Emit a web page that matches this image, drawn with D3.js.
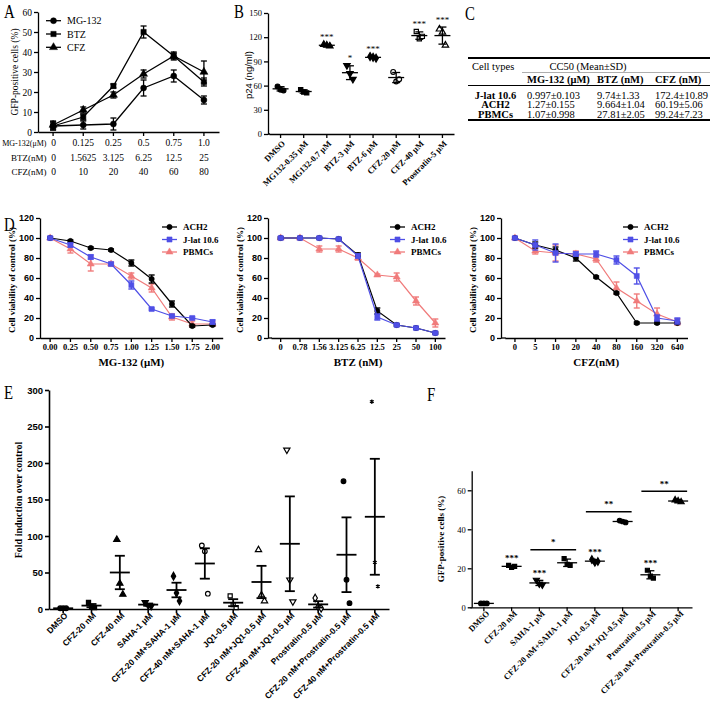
<!DOCTYPE html>
<html><head><meta charset="utf-8">
<script src="https://cdn.jsdelivr.net/npm/d3@7/dist/d3.min.js"></script>
<style>html,body{margin:0;padding:0;background:#fff;}svg{display:block;background:#fff}</style>
</head><body>
<svg id="chart" width="713" height="711"></svg>
<script>
// ================= DATA =================
// Panel A
const aMGLabels = ["0","0.125","0.25","0.5","0.75","1.0"];
const aBTZLabels = ["0","1.5625","3.125","6.25","12.5","25"];
const aCFZLabels = ["0","10","20","40","60","80"];
const aRowNames = ["MG-132(μM)","BTZ(nM)","CFZ(nM)"];
const aSeriesNames = ["MG-132","BTZ","CFZ"];
const aMG132 = [3, 3.5, 4, 22, 28, 16];
const aMG132Err = [2, 2, 3, 4, 3, 2];
const aBTZ = [3, 7.5, 23, 50, 38, 25];
const aBTZErr = [2, 1.5, 1, 3, 1.5, 2];
const aCFZ = [3.5, 11, 18.5, 29, 38, 30];
const aCFZErr = [2, 1.5, 1.5, 2, 2, 5.5];
const aYTicks = [0,10,20,30,40,50,60];

// Panel B
const bCats = ["DMSO","MG132-0.35 μM","MG132-0.7 μM","BTZ-3 μM","BTZ-6 μM","CFZ-20 μM","CFZ-40 μM","Prostratin-5 μM"];
const bVals = [[59,55,54],[55,52,51],[111,110,109],[85,75,68],[96,95,94],[77,65,68],[127,118,121],[130,126,110]];
const bStars = ["","","***","*","***","","***","***"];
const bYTicks = [0,30,60,90,120,150];

// Panel C
const cRows = ["J-lat 10.6","ACH2","PBMCs"];
const cCols = ["MG-132 (μM)","BTZ (nM)","CFZ (nM)"];
const cMG132 = ["0.997±0.103","1.27±0.155","1.07±0.998"];
const cBTZ = ["9.74±1.33","9.664±1.04","27.81±2.05"];
const cCFZ = ["172.4±10.89","60.19±5.06","99.24±7.23"];

// Panel D
const dNames = ["ACH2","J-lat 10.6","PBMCs"];
const dYTicks = [0,20,40,60,80,100,120];
const d1Cats = ["0.00","0.25","0.50","0.75","1.00","1.25","1.50","1.75","2.00"];
const d1ACH2 = [100,97,90,88,75,59,34,12,13];
const d1ACH2Err = [1,1,1,1,3,4,3,1,1];
const d1Jlat = [100,93,81,74,53,29,22,20,16];
const d1JlatErr = [1,2,2,1,4,1,1,1,2];
const d1PBMC = [100,89,74,74,62,50,21,14,14];
const d1PBMCErr = [1,4,7,2,3,4,3,3,2];
const d2Cats = ["0","0.78","1.56","3.125","6.25","12.5","25","50","100"];
const d2ACH2 = [100,100,100,99,83,27,13,10,5];
const d2ACH2Err = [1,1,1,1,2,3,1,1,1];
const d2Jlat = [100,100,100,99,82,21,13,10,5];
const d2JlatErr = [1,1,1,1,2,3,1,1,1];
const d2PBMC = [100,100,89,89,80,63,61,37,15];
const d2PBMCErr = [1,1,3,3,2,1,4,4,4];
const d3Cats = ["0","5","10","20","40","80","160","320","640"];
const d3ACH2 = [100,93,88,80,61,45,15,15,15];
const d3ACH2Err = [1,3,3,3,1,1,1,1,1];
const d3Jlat = [100,93,85,84,84,78,62,20,17];
const d3JlatErr = [1,5,9,2,3,4,8,3,3];
const d3PBMC = [100,87,85,84,79,50,37,24,16];
const d3PBMCErr = [1,3,8,3,3,6,7,6,3];

// Panel E
const eCats = ["DMSO","CFZ-20 nM","CFZ-40 nM","SAHA-1 μM","CFZ-20 nM+SAHA-1 μM","CFZ-40 nM+SAHA-1 μM","JQ1-0.5 μM","CFZ-20 nM+JQ1-0.5 μM","CFZ-40 nM+JQ1-0.5 μM","Prostratin-0.5 μM","CFZ-20 nM+Prostratin-0.5 μM","CFZ-40 nM+Prostratin-0.5 μM"];
const eVals = [[1,1,1],[9,3,2],[95,35,20],[9,5,4],[45,22,11],[87,79,21],[18,6,2],[81,19,11],[218,40,10],[15,3,1],[175,40,8],[284,64,31]];
const eYTicks = [0,50,100,150,200,250,300];

// Panel F
const fCats = ["DMSO","CFZ-20 nM","SAHA-1 μM","CFZ-20 nM+SAHA-1 μM","JQ1-0.5 μM","CFZ-20 nM+JQ1-0.5 μM","Prostratin-0.5 μM","CFZ-20 nM+Prostratin-0.5 μM"];
const fVals = [[2,2,2],[21.5,20.5,21],[14,12,11.5],[25,22,21.5],[24.5,23,23.5],[44.5,44,43.5],[19,16,15],[55,54.5,54]];
const fStars = ["","***","***","","***","","***",""];
const fBrackets = [[2,3,"*"],[4,5,"**"],[6,7,"**"]];
const fYTicks = [0,20,40,60];

// ================= DRAWING =================
const SERIF = "'Liberation Serif','Times New Roman',serif";
const SANS = "'Liberation Sans',Arial,sans-serif";
const svg = d3.select("#chart");

function txt(g, x, y, s, o = {}) {
  return g.append("text").attr("x", x).attr("y", y).text(s)
    .attr("font-family", o.font || SERIF).attr("font-size", o.size || 10)
    .attr("font-weight", o.weight || "normal").attr("text-anchor", o.anchor || "start")
    .attr("fill", o.fill || "#000");
}
function rtxt(g, x, y, s, o = {}) {
  return g.append("text").attr("transform", `translate(${x},${y}) rotate(-90)`).text(s)
    .attr("font-family", o.font || SERIF).attr("font-size", o.size || 10)
    .attr("font-weight", o.weight || "normal").attr("text-anchor", "middle");
}
function panelLetter(x, y, s) {
  svg.append("text").attr("transform", `translate(${x},${y}) scale(0.78,1)`).text(s)
    .attr("font-family", SERIF).attr("font-size", 19);
}
function styleAxis(g, o) {
  g.attr("font-family", o.font || SERIF).attr("font-size", o.size || 9).attr("font-weight", o.weight || "normal");
  g.selectAll("path,line").attr("stroke", "#000").attr("stroke-width", o.sw || 1.3);
  g.selectAll("text").attr("fill", "#000");
  return g;
}
function yAxis(x, scale, ticks, o = {}) {
  const g = svg.append("g").attr("transform", `translate(${x},0)`)
    .call(d3.axisLeft(scale).tickValues(ticks).tickSize(o.ts || 4).tickSizeOuter(0).tickPadding(o.tp || 2).tickFormat(d3.format("d")));
  return styleAxis(g, o);
}
function xAxisBand(y, band, o = {}) {
  const g = svg.append("g").attr("transform", `translate(0,${y})`)
    .call(d3.axisBottom(band).tickSize(o.ts || 4).tickSizeOuter(0).tickPadding(o.tp || 2).tickFormat(o.labels ? null : ""));
  return styleAxis(g, o);
}
const SYM = {circle: d3.symbolCircle, square: d3.symbolSquare, triangle: d3.symbolTriangle,
  tridown: d3.symbolTriangle, diamond: d3.symbolDiamond, asterisk: d3.symbolAsterisk};
function mark(g, type, x, y, size, fill, stroke, sw) {
  g.append("path").attr("d", d3.symbol().type(SYM[type]).size(size)())
    .attr("transform", `translate(${x},${y})${type === "tridown" ? " rotate(180)" : ""}`)
    .attr("fill", type === "asterisk" ? "none" : fill).attr("stroke", stroke).attr("stroke-width", sw || 1.1);
}
function errBar(g, x, y0, y1, cap, color, sw) {
  g.append("line").attr("x1", x).attr("x2", x).attr("y1", y0).attr("y2", y1).attr("stroke", color).attr("stroke-width", sw);
  [y0, y1].forEach(yy => g.append("line").attr("x1", x - cap).attr("x2", x + cap).attr("y1", yy).attr("y2", yy).attr("stroke", color).attr("stroke-width", sw));
}
function rotLabels(band, y, dx, o) {
  band.domain().forEach(c => {
    svg.append("text").attr("transform", `translate(${band(c) + band.bandwidth() / 2 + dx},${y}) rotate(-45)`)
      .attr("text-anchor", "end").attr("dy", "0.35em").text(c)
      .attr("font-family", o.font).attr("font-size", o.size).attr("font-weight", o.weight || "normal");
  });
}
function dotPlot(band, y, vals, shapes, fills, o) {
  const g = svg.append("g");
  vals.forEach((v, i) => {
    const cx = band(band.domain()[i]) + band.bandwidth() / 2;
    const m = d3.mean(v), sd = d3.deviation(v), e = o.sem ? sd / Math.sqrt(v.length) : sd;
    v.forEach((val, j) => mark(g, shapes[i], cx + (j - 1) * o.jit, y(val), shapes[i] === "asterisk" ? o.size * 0.8 : o.size, fills[i] ? "#000" : "#fff", "#000", 1.2));
    g.append("line").attr("x1", cx - o.mw).attr("x2", cx + o.mw).attr("y1", y(m)).attr("y2", y(m)).attr("stroke", "#000").attr("stroke-width", o.sw);
    errBar(g, cx, y(m - e), y(m + e), o.cw, "#000", o.sw);
  });
}

// ---------- Panel A ----------
panelLetter(4, 18, "A");
const aX = d3.scaleBand().domain(aMGLabels).range([38, 219]);
const aY = d3.scaleLinear().domain([0, 60]).range([132, 12]);
yAxis(38, aY, aYTicks, {font: SERIF, size: 9.5});
xAxisBand(132, aX, {});
const aCx = i => aX(aMGLabels[i]) + aX.bandwidth() / 2;
const aSeries = [
  {v: aMG132, e: aMG132Err, s: "circle"},
  {v: aBTZ, e: aBTZErr, s: "square"},
  {v: aCFZ, e: aCFZErr, s: "triangle"}];
const gA = svg.append("g");
aSeries.forEach(sr => {
  gA.append("path").datum(sr.v).attr("fill", "none").attr("stroke", "#000").attr("stroke-width", 1.3)
    .attr("d", d3.line().x((d, i) => aCx(i)).y(d => aY(d)));
  sr.v.forEach((d, i) => { errBar(gA, aCx(i), aY(d - sr.e[i]), aY(d + sr.e[i]), 3, "#000", 1.3); });
  sr.v.forEach((d, i) => mark(gA, sr.s, aCx(i), aY(d), 28, "#000", "#000", 0.5));
});
[aMGLabels, aBTZLabels, aCFZLabels].forEach((row, r) => {
  const yy = 146 + r * 14.5;
  txt(svg, 46.5, yy, aRowNames[r], {size: r === 0 ? 8 : 9, anchor: "end"});
  row.forEach((s, i) => txt(svg, aCx(i) + (i === 0 ? 0.5 : 0), yy, s, {size: 9.5, anchor: "middle"}));
});
aSeries.forEach((sr, i) => {
  const yy = 20.7 + i * 13.3;
  svg.append("line").attr("x1", 46).attr("x2", 61).attr("y1", yy).attr("y2", yy).attr("stroke", "#000").attr("stroke-width", 1.3);
  mark(svg, sr.s, 53.5, yy, 28, "#000", "#000", 0.5);
  txt(svg, 67, yy + 3.5, aSeriesNames[i], {size: 10});
});
rtxt(svg, 18, 72, "GFP-positive cells (%)", {size: 9.5});

// ---------- Panel B ----------
panelLetter(234, 18, "B");
const bX = d3.scaleBand().domain(bCats).range([269, 454]);
const bY = d3.scaleLinear().domain([0, 150]).range([134, 13]);
yAxis(268, bY, bYTicks, {font: SERIF, size: 8.5});
xAxisBand(134, bX, {});
svg.append("line").attr("x1", 268).attr("x2", 270).attr("y1", 134).attr("y2", 134).attr("stroke", "#000").attr("stroke-width", 1.3);
dotPlot(bX, bY, bVals, ["circle","square","triangle","tridown","diamond","circle","square","triangle"], [1,1,1,1,1,0,0,0],
  {size: 18, jit: 3, mw: 8, cw: 4, sw: 1.3, sem: false});
bVals.forEach((v, i) => {
  if (!bStars[i]) return;
  const top = Math.max(d3.max(v), d3.mean(v) + d3.deviation(v));
  txt(svg, bX(bCats[i]) + bX.bandwidth() / 2, bY(top) - 4.5, bStars[i], {size: 9, anchor: "middle"});
});
rotLabels(bX, 142, 3, {font: SERIF, size: 8.5, weight: "bold"});
rtxt(svg, 252, 75, "p24 (ng/ml)", {font: SANS, size: 9.5});

// ---------- Panel C ----------
panelLetter(465, 20, "C");
const gC = svg.append("g");
const hl = (y, x0, x1, w, c) => gC.append("line").attr("x1", x0).attr("x2", x1).attr("y1", y).attr("y2", y).attr("stroke", c || "#000").attr("stroke-width", w);
hl(58, 468, 710, 1.8);
hl(72.5, 522, 710, 0.8, "#999");
hl(85.5, 468, 710, 1.1);
hl(120, 468, 710, 1.8);
txt(gC, 472, 70, "Cell types", {size: 10.5});
txt(gC, 588, 70, "CC50 (Mean±SD)", {size: 10.5, anchor: "middle"});
const cColX = [527, 597, 655];
cCols.forEach((c, i) => txt(gC, cColX[i], 83, c, {size: 10.5, weight: "bold"}));
[cMG132, cBTZ, cCFZ].forEach((col, ci) => col.forEach((s, ri) => txt(gC, cColX[ci], 98.5 + ri * 9.6, s, {size: 10.5})));
cRows.forEach((r, ri) => txt(gC, 495.5, 98.5 + ri * 9.6, r, {size: 10.5, weight: "bold", anchor: "middle"}));

// ---------- Panel D ----------
panelLetter(4, 231, "D");
const dY = d3.scaleLinear().domain([0, 120]).range([338, 218]);
const dColors = ["#000000", "#4f4fe6", "#f07b7b"];
const dShapes = ["circle", "square", "triangle"];
const dSizes = [22, 26, 22];
const dPanels = [
  {cats: d1Cats, title: "MG-132 (μM)", s: [d1ACH2, d1Jlat, d1PBMC], e: [d1ACH2Err, d1JlatErr, d1PBMCErr], ax: 40, r: [40, 222.7]},
  {cats: d2Cats, title: "BTZ (nM)", s: [d2ACH2, d2Jlat, d2PBMC], e: [d2ACH2Err, d2JlatErr, d2PBMCErr], ax: 268, r: [271, 445]},
  {cats: d3Cats, title: "CFZ(nM)", s: [d3ACH2, d3Jlat, d3PBMC], e: [d3ACH2Err, d3JlatErr, d3PBMCErr], ax: 501, r: [504.8, 687.5]}];
dPanels.forEach(p => {
  const x = d3.scaleBand().domain(p.cats).range(p.r);
  const cx = i => x(p.cats[i]) + x.bandwidth() / 2;
  yAxis(p.ax, dY, dYTicks, {font: SANS, size: 9, weight: "bold"});
  xAxisBand(338, x, {labels: true, font: SERIF, size: 8.5, weight: "bold", tp: 2});
  svg.append("line").attr("x1", p.ax).attr("x2", p.r[0] + 1).attr("y1", 338).attr("y2", 338).attr("stroke", "#000").attr("stroke-width", 1.3);
  txt(svg, (p.r[0] + p.r[1]) / 2, 366, p.title, {size: 11, weight: "bold", anchor: "middle"});
  rtxt(svg, p.ax - 25, 280, "Cell viability of control (%)", {size: 9, weight: "bold"});
  const g = svg.append("g");
  [2, 0, 1].forEach(k => {
    const v = p.s[k], e = p.e[k];
    g.append("path").datum(v).attr("fill", "none").attr("stroke", dColors[k]).attr("stroke-width", 1.2)
      .attr("d", d3.line().x((d, i) => cx(i)).y(d => dY(d)));
    v.forEach((d, i) => errBar(g, cx(i), dY(d - e[i]), dY(d + e[i]), 3, dColors[k], 1.4));
    v.forEach((d, i) => mark(g, dShapes[k], cx(i), dY(d), dSizes[k], dColors[k], dColors[k], 0.5));
  });
  dNames.forEach((n, k) => {
    const yy = 227 + k * 12.5, lx = p.ax + 122;
    svg.append("line").attr("x1", lx).attr("x2", lx + 15).attr("y1", yy).attr("y2", yy).attr("stroke", dColors[k]).attr("stroke-width", 1.3);
    mark(svg, dShapes[k], lx + 7.5, yy, dSizes[k], dColors[k], dColors[k], 0.5);
    txt(svg, lx + 21, yy + 3.2, n, {size: 9, weight: "bold"});
  });
});

// ---------- Panel E ----------
panelLetter(4, 399, "E");
const eX = d3.scaleBand().domain(eCats).range([49, 389]);
const eY = d3.scaleLinear().domain([0, 300]).range([609, 390]);
yAxis(49, eY, eYTicks, {font: SANS, size: 9.5, weight: "bold", sw: 1.6});
xAxisBand(609, eX, {sw: 1.6});
dotPlot(eX, eY, eVals,
  ["circle","square","triangle","tridown","diamond","circle","square","triangle","tridown","diamond","circle","asterisk"],
  [1,1,1,1,1,0,0,0,0,0,1,1],
  {size: 17, jit: 3, mw: 10, cw: 5, sw: 1.8, sem: true});
rotLabels(eX, 614, 3, {font: SANS, size: 8.5, weight: "bold"});
rtxt(svg, 22, 500, "Fold induction over control", {size: 10, weight: "bold"});

// ---------- Panel F ----------
panelLetter(427, 401, "F");
const fX = d3.scaleBand().domain(fCats).range([470, 692]);
const fY = d3.scaleLinear().domain([0, 70]).range([607.3, 470.8]);
yAxis(471.7, fY, fYTicks, {font: SERIF, size: 8.5});
xAxisBand(607.3, fX, {});
dotPlot(fX, fY, fVals, ["circle","square","tridown","square","diamond","circle","square","triangle"], [1,1,1,1,1,1,1,1],
  {size: 16, jit: 3, mw: 10, cw: 4, sw: 1.3, sem: false});
const fCx = i => fX(fCats[i]) + fX.bandwidth() / 2;
fVals.forEach((v, i) => {
  if (fStars[i]) txt(svg, fCx(i), fY(d3.max(v)) - 4.5, fStars[i], {size: 9, anchor: "middle", weight: "bold"});
});
fBrackets.forEach(b => {
  const top = d3.max([...fVals[b[0]], ...fVals[b[1]]]) + 4.5;
  svg.append("line").attr("x1", fCx(b[0]) - 9).attr("x2", fCx(b[1]) + 9).attr("y1", fY(top)).attr("y2", fY(top)).attr("stroke", "#000").attr("stroke-width", 1.6);
  txt(svg, (fCx(b[0]) + fCx(b[1])) / 2, fY(top) - 4.5, b[2], {size: 9, anchor: "middle", weight: "bold"});
});
rotLabels(fX, 612, 4, {font: SERIF, size: 8.5, weight: "bold"});
rtxt(svg, 444, 539, "GFP-positive cells (%)", {size: 9, weight: "bold"});
</script>
</body></html>
